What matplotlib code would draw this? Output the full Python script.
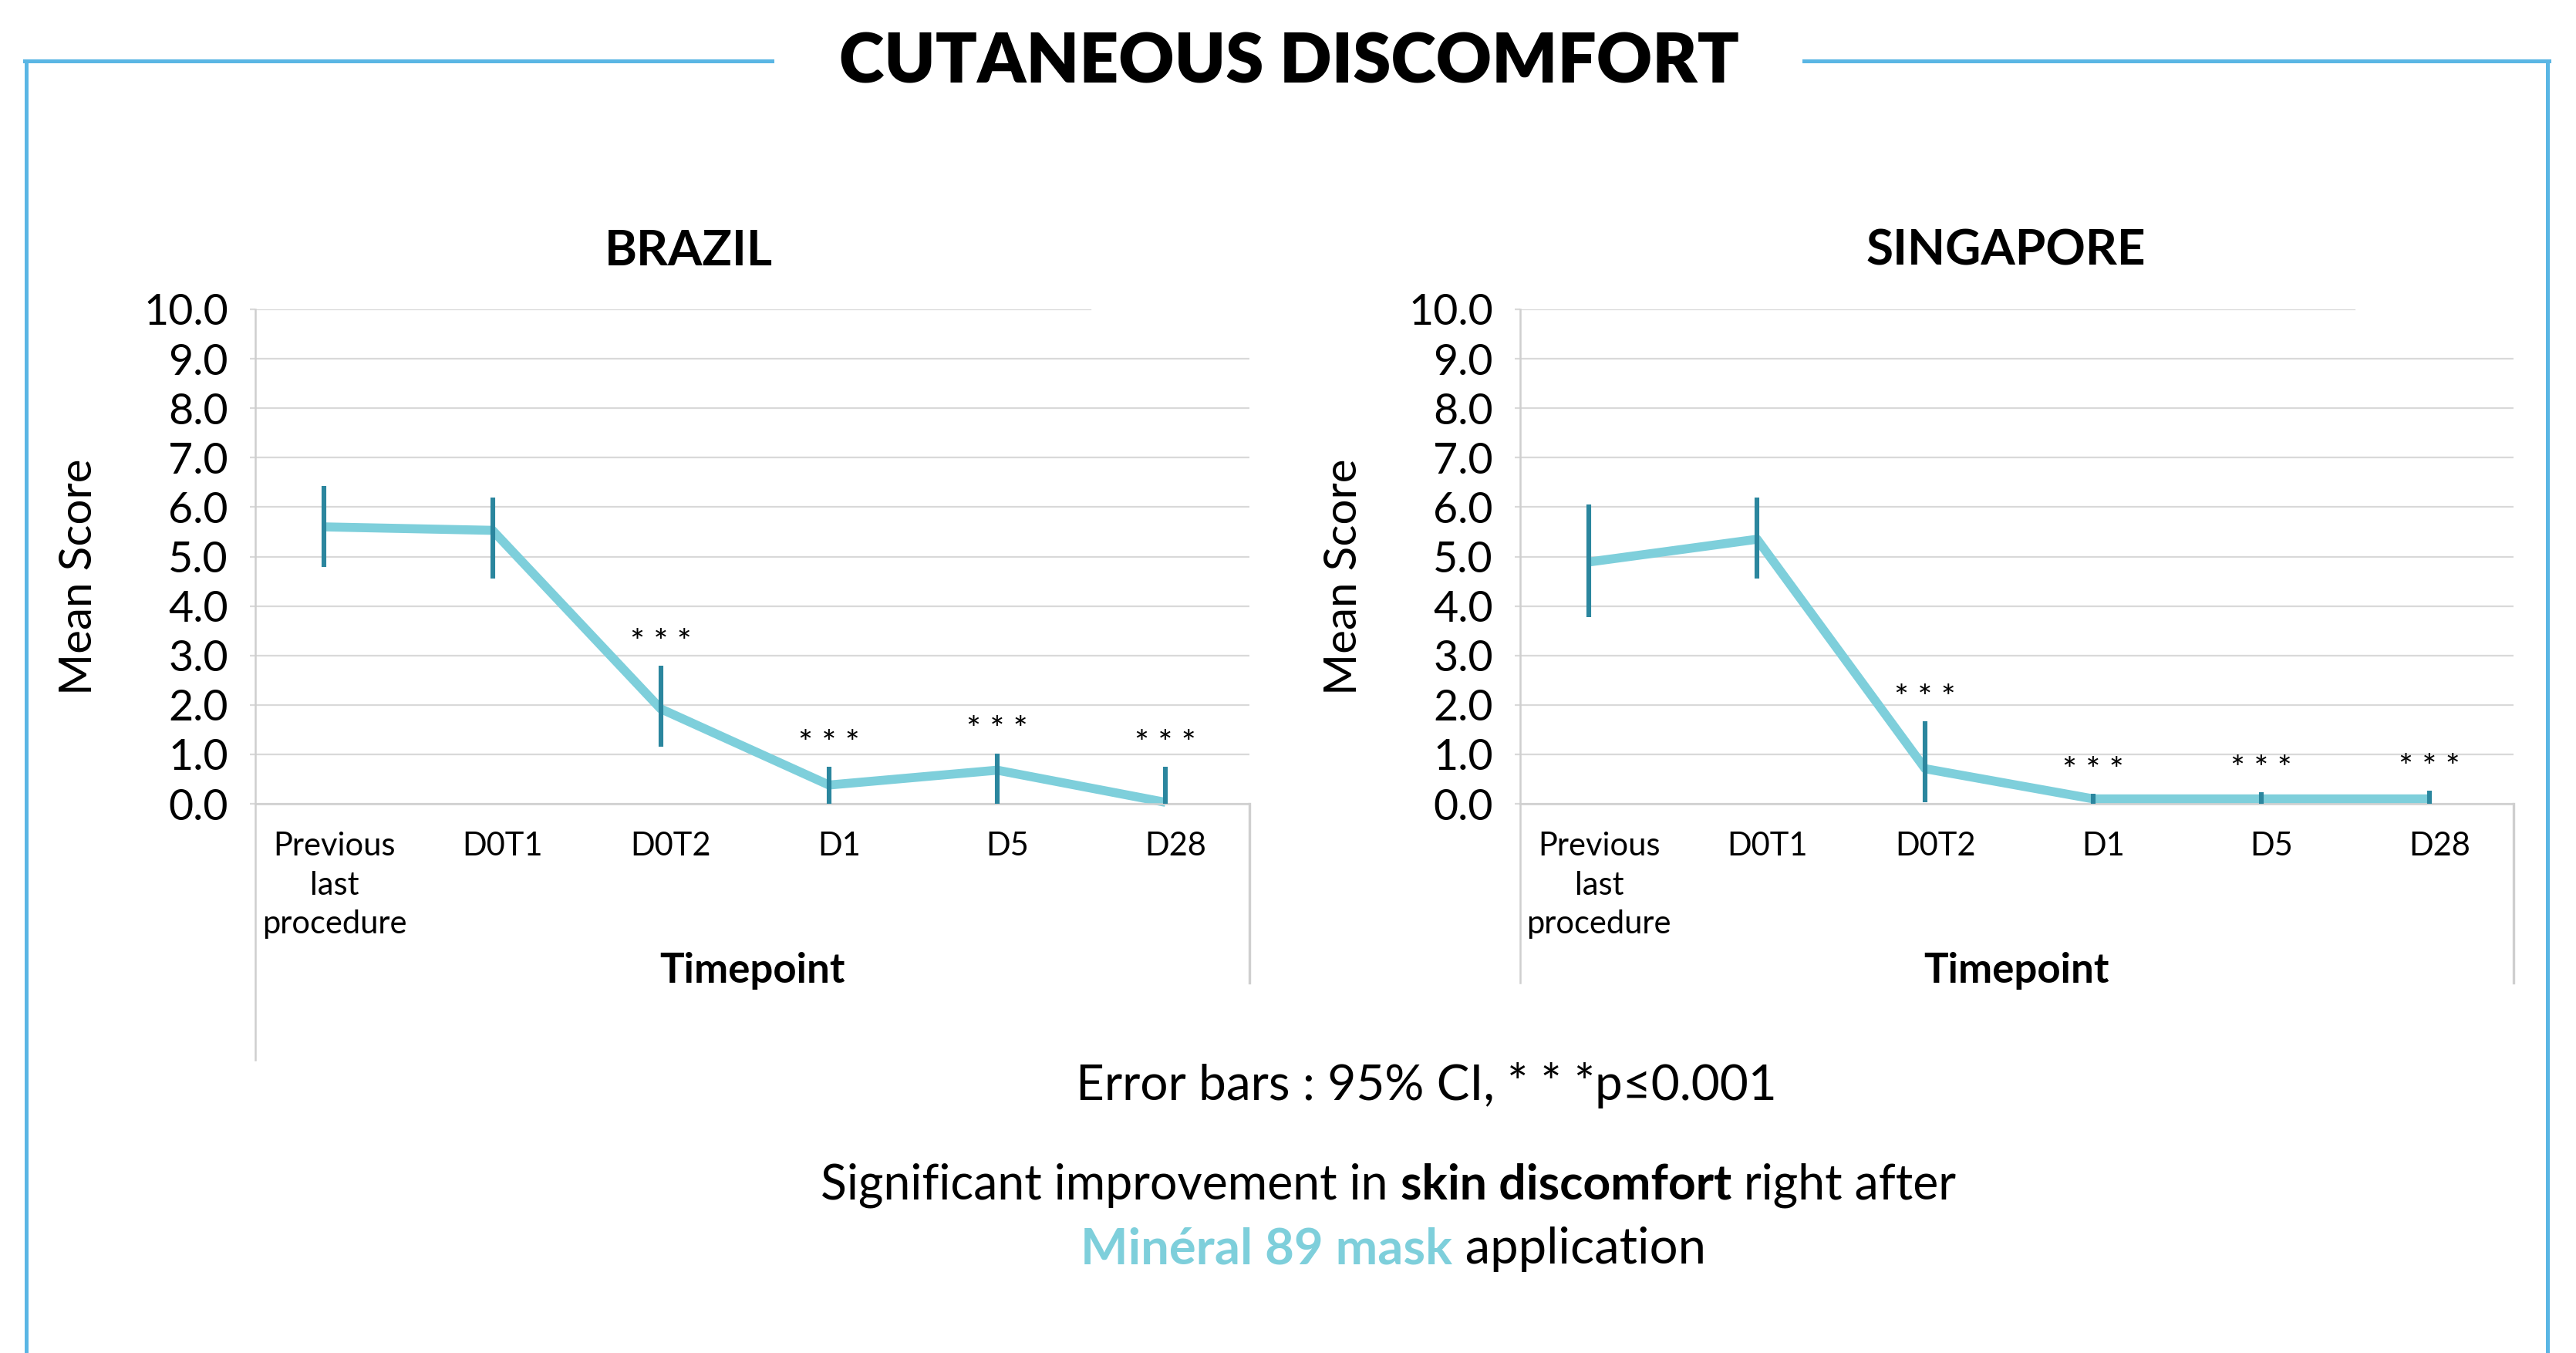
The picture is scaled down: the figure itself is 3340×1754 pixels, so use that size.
import numpy as np
import matplotlib
matplotlib.use("Agg")
import matplotlib.pyplot as plt
from matplotlib.lines import Line2D

plt.rcParams['font.family'] = ['Lato', 'DejaVu Sans']

# data
timepoints = ["Previous\nlast\nprocedure", "D0T1", "D0T2", "D1", "D5", "D28"]
stars = ["", "", "* * *", "* * *", "* * *", "* * *"]

brazil_mean = [5.60, 5.53, 1.92, 0.38, 0.68, 0.03]
brazil_lo = [4.79, 4.56, 1.15, 0.0, 0.0, 0.0]
brazil_hi = [6.43, 6.20, 2.79, 0.75, 1.02, 0.75]

sing_mean = [4.89, 5.35, 0.71, 0.10, 0.10, 0.10]
sing_lo = [3.78, 4.56, 0.03, 0.0, 0.0, 0.0]
sing_hi = [6.05, 6.20, 1.67, 0.20, 0.23, 0.26]

yticks = np.arange(0, 10.5, 1.0)

LINE_C = "#7ECFDB"
ERR_C = "#2B869E"
FRAME_C = "#5AB6E4"
GRID_C = "#D9D9D9"

fig = plt.figure(figsize=(16.7, 8.77), dpi=200)
fig.patch.set_facecolor("white")

# outer frame with a gap for the title
fr = dict(color=FRAME_C, lw=1.8, transform=fig.transFigure)
fig.add_artist(Line2D([0.0102, 0.0102], [0.0, 0.9547], **fr))
fig.add_artist(Line2D([0.9890, 0.9890], [0.0, 0.9547], **fr))
fig.add_artist(Line2D([0.0096, 0.2997], [0.9547, 0.9547], **fr))
fig.add_artist(Line2D([0.7003, 0.9896], [0.9547, 0.9547], **fr))
fig.text(0.5003, 0.9538, "CUTANEOUS DISCOMFORT", ha="center", va="center",
         fontsize=32, fontweight="heavy", color="black")


def panel(rect, title, title_x, mean, lo, hi, left_drop):
    ax = fig.add_axes(rect)
    x = np.arange(len(mean))
    mean = np.array(mean)
    yerr = [mean - np.array(lo), np.array(hi) - mean]

    for v in yticks:
        ax.axhline(v, xmin=0, xmax=0.84 if v == 10 else 1.0, color=GRID_C, lw=0.8, zorder=0)

    ax.plot(x, mean, color=LINE_C, lw=4.2, solid_capstyle="butt", zorder=2, clip_on=False)
    ax.errorbar(x, mean, yerr=yerr, fmt="none", ecolor=ERR_C, elinewidth=2.2, capsize=0, zorder=3)

    for i, s in enumerate(stars):
        if s:
            ax.annotate(s, xy=(x[i], hi[i]), xytext=(0, 3), textcoords="offset points",
                        ha="center", va="bottom", fontsize=16)

    ax.set_xlim(-0.41, 5.5)
    ax.set_ylim(0, 10)
    ax.set_yticks(yticks)
    ax.set_yticklabels([f"{v:.1f}" for v in yticks])
    ax.set_xticks(x + 0.06)
    ax.set_xticklabels(timepoints, fontsize=15, linespacing=1.4)
    ax.tick_params(axis="y", length=2.6, color=GRID_C, labelsize=20, pad=10)
    ax.tick_params(axis="x", length=0, pad=13)

    for sp in ["top", "right"]:
        ax.spines[sp].set_visible(False)
    ax.spines["left"].set_color("#CFCFCF")
    ax.spines["bottom"].set_color("#CFCFCF")
    ax.spines["left"].set_linewidth(0.9)
    ax.spines["bottom"].set_linewidth(0.9)

    # chart-area border pieces below the plot
    ax.add_line(Line2D([0, 0], [left_drop, 0], transform=ax.transAxes, color="#CFCFCF",
                       lw=0.9, clip_on=False))
    ax.add_line(Line2D([1, 1], [-0.362, 0], transform=ax.transAxes, color="#CFCFCF",
                       lw=1.2, clip_on=False))

    ax.set_ylabel("Mean Score", fontsize=21)
    ax.yaxis.set_label_coords(-0.157, 0.459)
    ax.set_xlabel("Timepoint", fontsize=19, fontweight="bold")
    ax.xaxis.set_label_coords(0.5, -0.30)

    fig.text(title_x, 0.8147, title, ha="center", va="center", fontsize=23, fontweight="bold")
    return ax


panel([0.0991, 0.4059, 0.3860, 0.3655], "BRAZIL", 0.2674, brazil_mean, brazil_lo, brazil_hi, -0.518)
panel([0.5901, 0.4059, 0.3856, 0.3655], "SINGAPORE", 0.7787, sing_mean, sing_lo, sing_hi, -0.362)


def rich_line(xc, y, parts, size):
    r = fig.canvas.get_renderer()
    texts = []
    for s, w, c in parts:
        texts.append(fig.text(0, y, s, fontsize=size, fontweight=w, color=c, ha="left", va="center"))
    widths = [t.get_window_extent(r).width for t in texts]
    figw = fig.bbox.width
    xpos = xc - sum(widths) / figw / 2
    for t, w in zip(texts, widths):
        t.set_x(xpos)
        xpos += w / figw


fig.text(0.5536, 0.198, "Error bars : 95% CI, * * *p\u22640.001",
         ha="center", va="center", fontsize=23)
rich_line(0.539, 0.124, [("Significant improvement in ", "normal", "black"),
                         ("skin discomfort", "bold", "black"),
                         (" right after", "normal", "black")], 22.5)
rich_line(0.541, 0.0765, [("Minéral 89 mask", "bold", LINE_C),
                          (" application", "normal", "black")], 23.5)

fig.savefig("out.png", dpi=200, facecolor="white")
